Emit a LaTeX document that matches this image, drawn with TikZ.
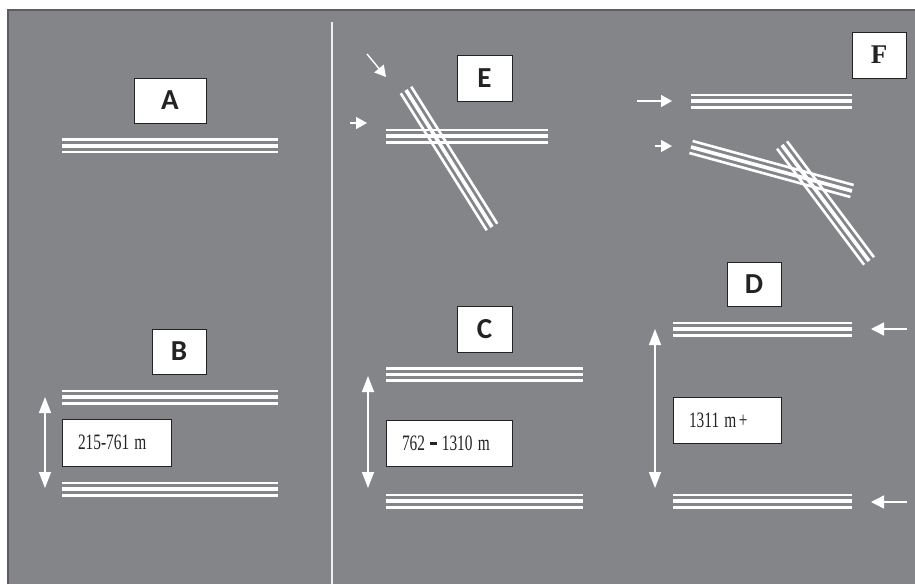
\documentclass[tikz,border=0pt]{standalone}
\usepackage{fontspec}
\setmainfont{Liberation Serif}
\newfontfamily\capfont{Carlito}
\usetikzlibrary{calc,arrows.meta}
\definecolor{panel}{RGB}{132,133,137}
\definecolor{rim}{RGB}{92,92,97}
\definecolor{ink}{RGB}{35,35,38}
\tikzset{
  rwedge/.style={white, line width=2.6pt},
  rwmid/.style={white, line width=3.7pt},
  tag/.style={draw=ink, line width=1pt, fill=white, text=ink, inner sep=0pt,
    font=\capfont\fontsize{29}{29}\selectfont\bfseries},
  gapbox/.style={draw=ink, line width=1pt, fill=white, text=ink, inner ysep=0pt,
    inner xsep=16pt, align=left, font=\fontsize{22}{22}\selectfont},
  flow/.style={white, line width=1.4pt, -{Triangle[length=11pt,width=12pt]}},
  span/.style={white, line width=1.4pt,
    {Triangle[length=16pt,width=12pt]}-{Triangle[length=16pt,width=12pt]}},
}
% a runway: three parallel white strips along the centre line #1 -- #2
\newcommand\rwy[2]{%
  \draw[rwedge] ($(#1)!6.2pt!90:(#2)$) -- ($(#2)!6.2pt!-90:(#1)$);
  \draw[rwmid] (#1) -- (#2);
  \draw[rwedge] ($(#1)!6.2pt!-90:(#2)$) -- ($(#2)!6.2pt!90:(#1)$);
}
\newcommand\narrow[1]{\scalebox{0.70}[1]{#1}}
\newcommand\bardash{\rule[0.22em]{0.42em}{0.15em}}
\begin{document}
\begin{tikzpicture}[x=1pt,y=-1pt]
\useasboundingbox (0,0) rectangle (915,584);
\fill[white] (0,0) rectangle (915,584);
\fill[panel] (8,10) rectangle (915,584);
\draw[rim, line width=2pt] (8,584) -- (8,10) -- (915,10);
\draw[white!88!gray, line width=1.6pt] (332,22) -- (332,584);

% ---- A: single runway
\node[tag, minimum width=72pt, minimum height=45pt] (tA) at (170,100.5) {A};
\coordinate (a1) at (62,145.8); \coordinate (a2) at (278,145.8);
\rwy{a1}{a2}

% ---- B: close parallel runways
\node[tag, minimum width=54pt, minimum height=45pt] (tB) at (179,351.5) {B};
\coordinate (b1) at (62,397); \coordinate (b2) at (278,397);
\coordinate (b3) at (62,489); \coordinate (b4) at (278,489);
\rwy{b1}{b2}
\rwy{b3}{b4}
\coordinate (bTop) at (45,397); \coordinate (bBot) at (45,488);
\draw[span] (bTop) -- (bBot);
\node[gapbox, text width=77pt, minimum height=47pt] (gB) at (116.5,442.5)
  {\narrow{215-761 m}};

% ---- C: intermediate parallel runways
\node[tag, minimum width=55pt, minimum height=46pt] (tC) at (484.5,329) {C};
\coordinate (c1) at (386,374.5); \coordinate (c2) at (583,374.5);
\coordinate (c3) at (386,501); \coordinate (c4) at (583,501);
\rwy{c1}{c2}
\rwy{c3}{c4}
\coordinate (cTop) at (368,376); \coordinate (cBot) at (368,488);
\draw[span] (cTop) -- (cBot);
\node[gapbox, text width=94pt, minimum height=46pt] (gC) at (449,443)
  {\narrow{762 \bardash{} 1310 m}};

% ---- D: far parallel runways
\node[tag, minimum width=54pt, minimum height=44pt] (tD) at (754,284) {D};
\coordinate (d1) at (673,329); \coordinate (d2) at (852,329);
\coordinate (d3) at (673,501); \coordinate (d4) at (852,501);
\rwy{d1}{d2}
\rwy{d3}{d4}
\coordinate (dTop) at (655,329); \coordinate (dBot) at (655,488);
\draw[span] (dTop) -- (dBot);
\node[gapbox, text width=76pt, minimum height=46pt] (gD) at (727,420)
  {\narrow{1311 m\,+}};
\coordinate (dIn1) at (907,329); \coordinate (dIn1t) at (871,329);
\coordinate (dIn2) at (907,502); \coordinate (dIn2t) at (871,502);
\draw[flow, -{Triangle[length=13pt,width=13pt]}] (dIn1) -- (dIn1t);
\draw[flow, -{Triangle[length=13pt,width=13pt]}] (dIn2) -- (dIn2t);

% ---- E: intersecting runways
\node[tag, minimum width=55pt, minimum height=46pt] (tE) at (484.5,78) {E};
\coordinate (e1) at (386,136); \coordinate (e2) at (548,136);
\coordinate (e3) at (406,90); \coordinate (e4) at (492,227);
\rwy{e1}{e2}
\rwy{e3}{e4}
\coordinate (eIn1) at (350,123); \coordinate (eIn1t) at (367,123);
\coordinate (eIn2) at (367,54); \coordinate (eIn2t) at (386,77);
\draw[flow] (eIn1) -- (eIn1t);
\draw[flow] (eIn2) -- (eIn2t);

% ---- F: open-V and crossing runways
\node[tag, minimum width=54pt, minimum height=46pt,
  font=\fontsize{27}{27}\selectfont\bfseries] (tF) at (879,55) {F};
\coordinate (f1) at (691,101); \coordinate (f2) at (852,101);
\coordinate (f3) at (691,147); \coordinate (f4) at (852,191);
\coordinate (f5) at (782,145); \coordinate (f6) at (869,261);
\rwy{f1}{f2}
\rwy{f3}{f4}
\rwy{f5}{f6}
\coordinate (fIn1) at (637,101); \coordinate (fIn1t) at (672,101);
\coordinate (fIn2) at (655,146); \coordinate (fIn2t) at (672,146);
\draw[flow] (fIn1) -- (fIn1t);
\draw[flow] (fIn2) -- (fIn2t);
\end{tikzpicture}
\end{document}
